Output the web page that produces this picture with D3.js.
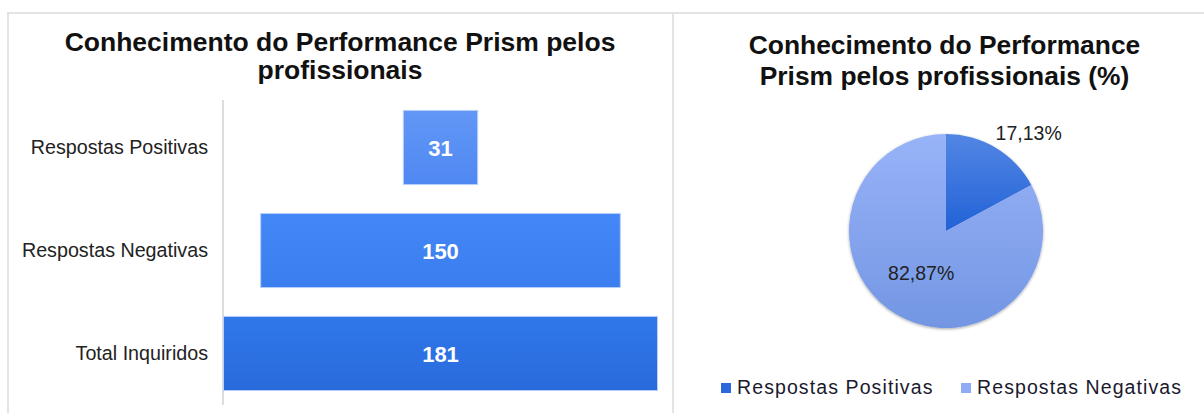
<!DOCTYPE html>
<html>
<head>
<meta charset="utf-8">
<script src="https://cdn.jsdelivr.net/npm/d3@7"></script>
<style>
  html, body { margin: 0; padding: 0; background: #fff; }
  svg { display: block; font-family: "Liberation Sans", Arial, sans-serif; }
</style>
</head>
<body>
<svg id="chart" width="1204" height="413"></svg>
<script>
// Survey data: knowledge of the Performance Prism among professionals
const barCategories = ["Respostas Positivas", "Respostas Negativas", "Total Inquiridos"];
const barValues = [31, 150, 181];
const pieCategories = ["Respostas Positivas", "Respostas Negativas"];
const pieValues = [17.13, 82.87];
const pieLabels = ["17,13%", "82,87%"];
const titleBar = ["Conhecimento do Performance Prism pelos", "profissionais"];
const titlePie = ["Conhecimento do Performance", "Prism pelos profissionais (%)"];

const svg = d3.select("#chart");
const defs = svg.append("defs");

function vGradient(id, top, bottom) {
  const g = defs.append("linearGradient").attr("id", id)
    .attr("x1", 0).attr("y1", 0).attr("x2", 0).attr("y2", 1);
  g.append("stop").attr("offset", "0%").attr("stop-color", top);
  g.append("stop").attr("offset", "100%").attr("stop-color", bottom);
}
const barGrads = [["#6297f6", "#4f88f2"], ["#4487f6", "#3a7eef"], ["#3078ea", "#296adb"]];
barGrads.forEach((c, i) => vGradient("barGrad" + i, c[0], c[1]));
vGradient("pieGrad0", "#5286e4", "#2262d6");
vGradient("pieGrad1", "#98b3f8", "#7396e3");

const shadow = defs.append("filter").attr("id", "pieShadow")
  .attr("x", "-20%").attr("y", "-20%").attr("width", "140%").attr("height", "140%");
shadow.append("feDropShadow").attr("dx", 0).attr("dy", 1).attr("stdDeviation", 1.6)
  .attr("flood-color", "#000").attr("flood-opacity", 0.35);

// Panel frames
const frame = svg.append("g").attr("stroke", "#e3e3e3").attr("stroke-width", 2).attr("fill", "none");
frame.append("line").attr("x1", 7).attr("x2", 1204).attr("y1", 13).attr("y2", 13);
frame.append("line").attr("x1", 8).attr("x2", 8).attr("y1", 12).attr("y2", 413);
frame.append("line").attr("x1", 673).attr("x2", 673).attr("y1", 12).attr("y2", 413);

// ---------- Left: centred (funnel-style) bar chart ----------
const left = svg.append("g");
left.append("text").attr("text-anchor", "middle").attr("font-weight", "bold")
  .attr("font-size", 26.5).attr("fill", "#111")
  .selectAll("tspan").data(titleBar).join("tspan")
  .attr("x", 340).attr("y", (d, i) => 51 + i * 28).text(d => d);

const axisX = 223;
const barCenter = 440.5;
const x = d3.scaleLinear().domain([0, d3.max(barValues)]).range([0, 434]);
const y = d3.scaleBand().domain(barCategories).range([96, 405])
  .paddingInner(0.28).paddingOuter(0.14);

left.append("line").attr("x1", axisX).attr("x2", axisX).attr("y1", 100).attr("y2", 405)
  .attr("stroke", "#d2d2d2").attr("stroke-width", 1.5);

const yAxis = d3.axisLeft(y).tickSize(0).tickPadding(0);
const yAxisG = left.append("g").attr("transform", `translate(208,0)`).call(yAxis);
yAxisG.select(".domain").remove();
yAxisG.selectAll("text").attr("font-size", 19.7).attr("fill", "#222")
  .attr("font-family", "'Liberation Sans', Arial, sans-serif");

left.selectAll("rect.bar").data(barValues).join("rect").attr("class", "bar")
  .attr("x", d => barCenter - x(d) / 2)
  .attr("y", (d, i) => y(barCategories[i]))
  .attr("width", d => x(d))
  .attr("height", y.bandwidth())
  .attr("fill", (d, i) => `url(#barGrad${i})`)
  .attr("stroke", "#b9d0fb").attr("stroke-width", 1);

left.selectAll("text.val").data(barValues).join("text").attr("class", "val")
  .attr("x", barCenter)
  .attr("y", (d, i) => y(barCategories[i]) + y.bandwidth() / 2 + 8)
  .attr("text-anchor", "middle").attr("font-weight", "bold")
  .attr("font-size", 22).attr("fill", "#fff").text(d => d);

// ---------- Right: pie chart ----------
const right = svg.append("g");
right.append("text").attr("text-anchor", "middle").attr("font-weight", "bold")
  .attr("font-size", 26.4).attr("fill", "#111")
  .selectAll("tspan").data(titlePie).join("tspan")
  .attr("x", 944.5).attr("y", (d, i) => 54 + i * 31).text(d => d);

const cx = 946, cy = 231, R = 97;
const pie = d3.pie().sort(null).value(d => d);
const arcs = pie(pieValues);
const arc = d3.arc().innerRadius(0).outerRadius(R);
const pg = right.append("g").attr("transform", `translate(${cx},${cy})`);
pg.append("g").attr("filter", "url(#pieShadow)")
  .selectAll("path").data(arcs).join("path")
  .attr("d", arc)
  .attr("fill", (d, i) => `url(#pieGrad${i})`);

// Labels: small slice outside, large slice at its centroid
const outerArc = d3.arc().innerRadius(R * 1.18).outerRadius(R * 1.18);
pg.selectAll("text.pl").data(arcs).join("text").attr("class", "pl")
  .attr("transform", (d, i) => {
    const c = i === 0 ? outerArc.centroid(d) : arc.centroid(d);
    return `translate(${c[0] + (i === 0 ? 24 : 0)},${c[1] + 7})`;
  })
  .attr("text-anchor", "middle").attr("font-size", 19.5).attr("fill", "#222")
  .text((d, i) => pieLabels[i]);

// Legend
const legendX = [721, 961];
const lg = right.selectAll("g.leg").data(pieCategories).join("g").attr("class", "leg")
  .attr("transform", (d, i) => `translate(${legendX[i]},383)`);
lg.append("rect").attr("width", 10).attr("height", 10)
  .attr("fill", (d, i) => i === 0 ? "#2c68db" : "#8eabf3");
lg.append("text").attr("x", 16).attr("y", 11).attr("font-size", 19.5)
  .attr("letter-spacing", 1.1).attr("fill", "#1a1a2e").text(d => d);
</script>
</body>
</html>
